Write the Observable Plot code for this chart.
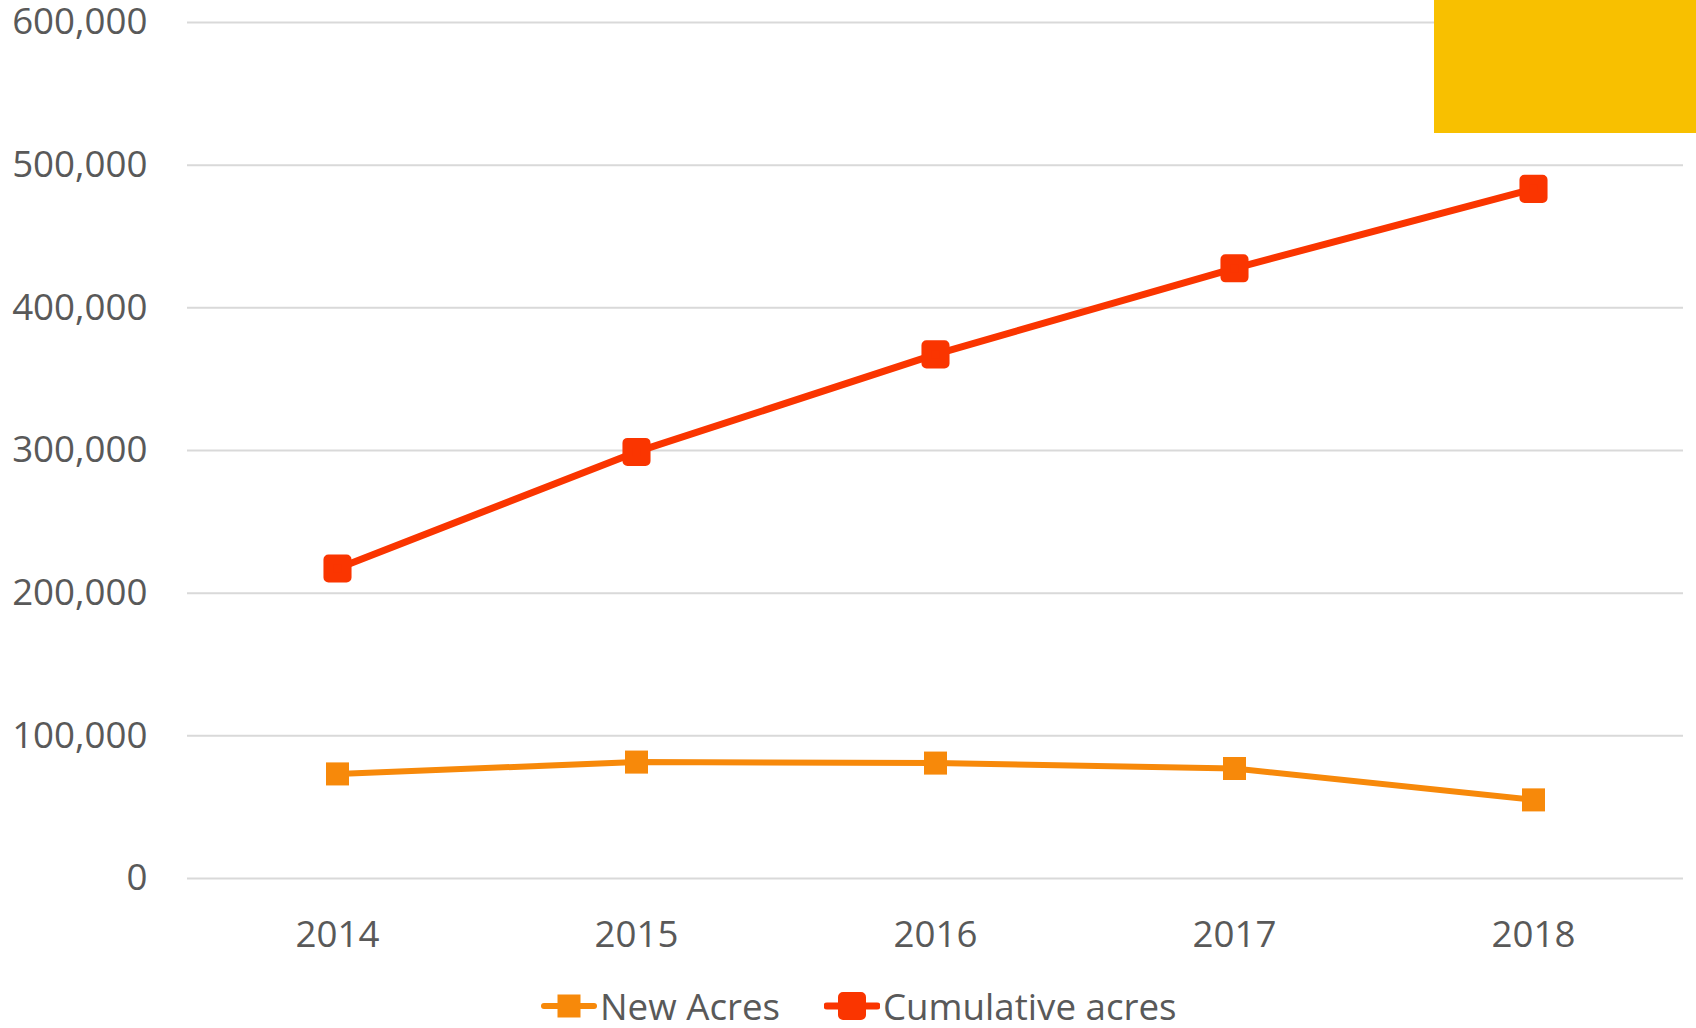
<!DOCTYPE html>
<html>
<head>
<meta charset="utf-8">
<script src="https://cdn.jsdelivr.net/npm/d3@7"></script>
<script src="https://cdn.jsdelivr.net/npm/@observablehq/plot@0.6"></script>
<style>
  html, body { margin: 0; padding: 0; background: #fff; }
  body { width: 1696px; height: 1028px; position: relative; overflow: hidden; font-family: "Open Sans", sans-serif; }
  #chart svg { display: block; }
  #legend { position: absolute; left: 0; top: 984px; width: 1696px; height: 44px; }
  .item { position: absolute; top: 0; height: 44px; display: flex; align-items: center; font-size: 36.7px; color: #595959; }
  .item svg { display: block; margin-right: 3px; }
  #cover { position: absolute; left: 1434px; top: 0; width: 262px; height: 133px; background: #F8C000; }
</style>
</head>
<body>
<div id="chart"></div>
<div id="legend"></div>
<div id="cover"></div>
<script>
const years = ["2014", "2015", "2016", "2017", "2018"];
const newAcres = [73300, 81600, 80900, 77100, 55100];
const cumulativeAcres = [217300, 299000, 367400, 427700, 483400];
const yTicks = [0, 100000, 200000, 300000, 400000, 500000, 600000];
const seriesNames = ["New Acres", "Cumulative acres"];
const seriesColors = ["#F7890A", "#FA3500"];

const rows = [];
years.forEach((y, i) => {
  rows.push({year: y, value: newAcres[i], series: seriesNames[0]});
  rows.push({year: y, value: cumulativeAcres[i], series: seriesNames[1]});
});
const newRows = rows.filter(d => d.series === seriesNames[0]);
const cumRows = rows.filter(d => d.series === seriesNames[1]);
const fmt = d3.format(",");

const chart = Plot.plot({
  width: 1696,
  height: 965,
  marginLeft: 187,
  marginRight: 13,
  marginTop: 22,
  marginBottom: 87,
  style: { fontFamily: "Open Sans, sans-serif", fontSize: "36.7px", color: "#595959", background: "#fff" },
  x: { type: "point", domain: years, padding: 0.5, label: null },
  y: { domain: [0, 600000], ticks: yTicks, label: null },
  marks: [
    Plot.ruleY(yTicks, { stroke: "#d9d9d9", strokeWidth: 2 }),
    Plot.axisY({ ticks: yTicks, tickSize: 0, tickPadding: 40, tickFormat: fmt, label: null, fill: "#595959", fontSize: 36.7 }),
    Plot.axisX({ tickSize: 0, tickPadding: 42, label: null, fill: "#595959", fontSize: 36.7 }),
    Plot.line(newRows, { x: "year", y: "value", stroke: seriesColors[0], strokeWidth: 6 }),
    Plot.line(cumRows, { x: "year", y: "value", stroke: seriesColors[1], strokeWidth: 7 }),
    Plot.dot(newRows, { x: "year", y: "value", symbol: "square", r: 13, fill: seriesColors[0], stroke: "none" }),
    Plot.dot(cumRows, { x: "year", y: "value", symbol: "square", r: 10.2, fill: seriesColors[1], stroke: seriesColors[1], strokeWidth: 10, strokeLinejoin: "round" })
  ]
});
document.getElementById("chart").appendChild(chart);

// Legend
const legend = document.getElementById("legend");
const legendLeft = [541, 824];
seriesNames.forEach((name, i) => {
  const item = document.createElement("div");
  item.className = "item";
  item.style.left = legendLeft[i] + "px";
  const rounded = i === 1;
  const sq = rounded ? 18 : 23;
  const marker = `<svg width="56" height="44">
    <line x1="3" x2="53" y1="22" y2="22" stroke="${seriesColors[i]}" stroke-width="${rounded ? 7 : 6}" stroke-linecap="round"/>
    <rect x="${28 - sq/2}" y="${22 - sq/2}" width="${sq}" height="${sq}" fill="${seriesColors[i]}" ${rounded ? `stroke="${seriesColors[i]}" stroke-width="10" stroke-linejoin="round"` : ""}/>
  </svg>`;
  item.innerHTML = marker + `<span>${name}</span>`;
  legend.appendChild(item);
});
</script>
</body>
</html>
